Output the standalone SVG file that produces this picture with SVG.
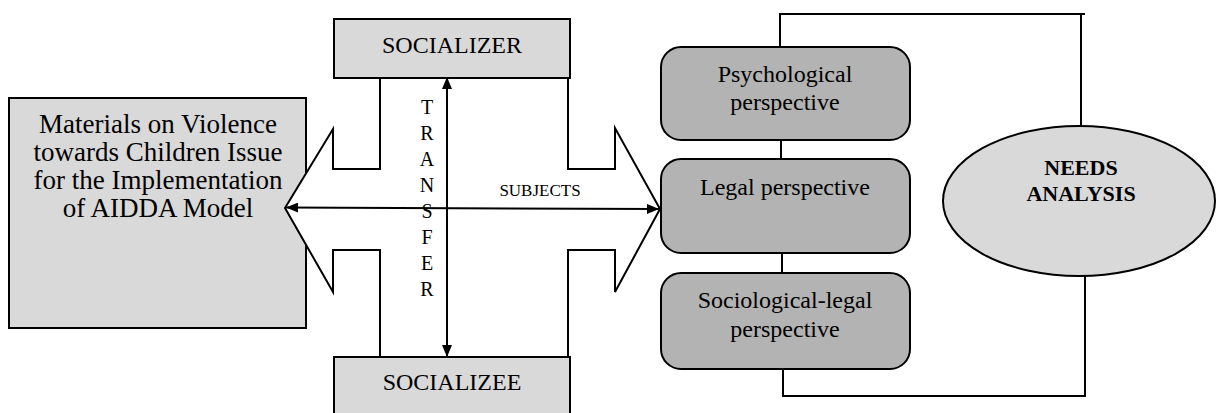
<svg xmlns="http://www.w3.org/2000/svg" width="1216" height="413" viewBox="0 0 1216 413">
<style>
text{fill:#000;text-anchor:middle}
.lt{fill:#d9d9d9;stroke:#000;stroke-width:2}
.dk{fill:#b3b3b3;stroke:#000;stroke-width:2}
.ln{fill:none;stroke:#000;stroke-width:2}
</style>
<defs>
<marker id="ah" viewBox="0 0 12 10" refX="12" refY="5" markerWidth="12" markerHeight="10" markerUnits="userSpaceOnUse" orient="auto-start-reverse">
<path d="M0,0 L12,5 L0,10 z" fill="#000"/>
</marker>
</defs>
<g font-family="'Liberation Serif', 'Times New Roman', 'DejaVu Serif', serif">
<g id="materials">
<rect class="lt" x="9" y="98" width="297" height="230"/>
<text font-size="27"><tspan x="158" y="133">Materials on Violence</tspan><tspan x="158" y="161">towards Children Issue</tspan><tspan x="158" y="189">for the Implementation</tspan><tspan x="158" y="217">of AIDDA Model</tspan></text>
</g>
<g id="cross">
<path d="M380,78 L380,169 L333,169 L333,129 L285,208 L333,292 L333,250 L380,250 L380,357 L568,357 L568,250 L615,250 L615,292 L660,209 L615,128 L615,169 L568,169 L568,78 Z" fill="#fff" stroke="#000" stroke-width="2" stroke-linejoin="miter"/>
</g>
<g id="socializer">
<rect class="lt" x="334" y="19" width="236" height="59"/>
<text x="452" y="53" font-size="24">SOCIALIZER</text>
</g>
<g id="socializee">
<rect class="lt" x="334" y="357" width="236" height="70"/>
<text x="452" y="390" font-size="24">SOCIALIZEE</text>
</g>
<g id="psych">
<rect class="dk" x="661" y="47" width="249" height="93" rx="20" ry="20"/>
<text font-size="24"><tspan x="785" y="82">Psychological</tspan><tspan x="785" y="110">perspective</tspan></text>
</g>
<g id="legal">
<rect class="dk" x="661" y="159" width="249" height="94" rx="20" ry="20"/>
<text x="785" y="195" font-size="24">Legal perspective</text>
</g>
<g id="sociolegal">
<rect class="dk" x="661" y="273" width="249" height="96" rx="20" ry="20"/>
<text font-size="24"><tspan x="785" y="308">Sociological-legal</tspan><tspan x="785" y="337">perspective</tspan></text>
</g>
<g id="needs">
<ellipse class="lt" cx="1079" cy="201" rx="136" ry="75"/>
<text font-size="22" font-weight="bold"><tspan x="1081" y="175">NEEDS</tspan><tspan x="1081" y="201">ANALYSIS</tspan></text>
</g>
<g id="connectors">
<line class="ln" x1="286" y1="207.5" x2="659" y2="209" marker-start="url(#ah)" marker-end="url(#ah)"/>
<line class="ln" x1="447" y1="77" x2="447" y2="357" marker-start="url(#ah)" marker-end="url(#ah)"/>
<polyline class="ln" points="780,47 780,14 1085,14"/>
<line class="ln" x1="1081" y1="14" x2="1081" y2="126"/>
<line class="ln" x1="781" y1="140" x2="781" y2="159"/>
<line class="ln" x1="782" y1="253" x2="782" y2="273"/>
<polyline class="ln" points="783,369 783,396 1085,396 1085,276"/>
</g>
<g id="labels">
<text font-size="20"><tspan x="427" y="114">T</tspan><tspan x="427" y="140">R</tspan><tspan x="427" y="166">A</tspan><tspan x="427" y="192">N</tspan><tspan x="427" y="218">S</tspan><tspan x="427" y="244">F</tspan><tspan x="427" y="270">E</tspan><tspan x="427" y="296">R</tspan></text>
<text x="540" y="196" font-size="17">SUBJECTS</text>
</g>
</g>
</svg>
